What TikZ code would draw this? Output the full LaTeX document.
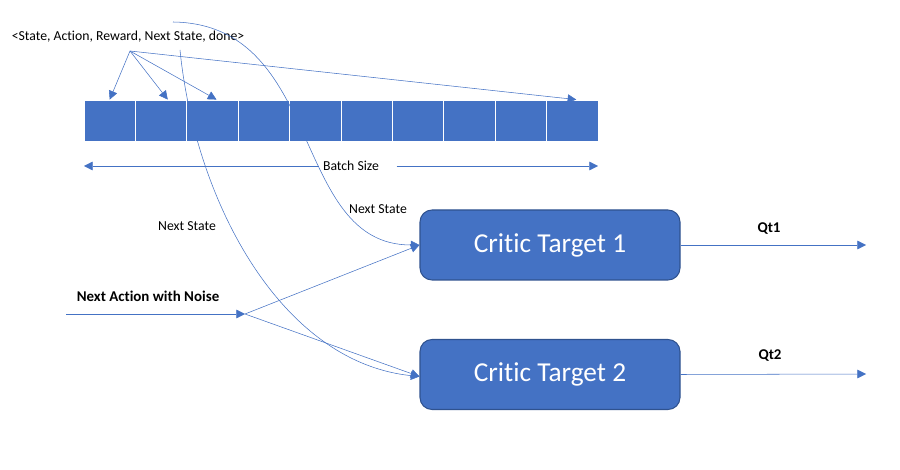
\documentclass[tikz,border=0pt]{standalone}
\usepackage{fontspec}
\setmainfont{Carlito}[Ligatures=CommonOff]
\usetikzlibrary{arrows.meta,positioning}

\definecolor{officeblue}{HTML}{4472C4}
\definecolor{officedark}{HTML}{2F528F}

\begin{document}
\begin{tikzpicture}[
  x=0.75pt, y=-0.75pt,
  >={Triangle[length=6.5pt,width=6.5pt]},
  semithick,
  flow/.style={->,draw=officeblue,thin},
  cell/.style={draw=white,fill=officeblue,minimum width=38.55pt,minimum height=30.75pt,inner sep=0pt},
  critic/.style={draw=officedark,thick,fill=officeblue,rounded corners=9pt,minimum width=195pt,minimum height=52.5pt,text=white,font=\fontsize{20.5}{24}\selectfont},
  lbl/.style={font=\fontsize{10.3}{12}\selectfont,inner sep=1pt},
  bold lbl/.style={lbl,font=\fontsize{11.2}{13}\selectfont\bfseries}
]
  \useasboundingbox (0,0) rectangle (900,470);

  % Replay buffer
  \node[lbl] (tuple) at (128,37) {<State, Action, Reward, Next State, done>};
  \coordinate (fan) at (130,51);
  \foreach \i in {1,...,10}
    \node[cell] (cell\i) at ({84+25.7+51.4*(\i-1)},120.5) {};

  % Batch size
  \node[lbl] (batch) at (351,166) {Batch Size};
  \coordinate (bleft) at (84,166);
  \coordinate (bright) at (598,166);

  % Critic targets
  \node[critic] (ct1) at (550,245) {Critic Target 1};
  \node[critic] (ct2) at (550,374.5) {Critic Target 2};

  % Inputs and outputs
  \coordinate (start) at (66,314);
  \coordinate (noise) at (245,314);
  \node[bold lbl] (nalabel) at (148,296) {Next Action with Noise};
  \coordinate (ns1) at (173,22);
  \coordinate (ns2) at (180,50);
  \node[lbl] (ns1label) at (378,209) {Next State};
  \node[lbl] (ns2label) at (187,226) {Next State};
  \coordinate (q1end) at (866,245);
  \coordinate (q2end) at (866,374);
  \node[bold lbl] (qt1) at (769,229) {Qt1};
  \node[bold lbl] (qt2) at (770,356) {Qt2};

  % --- Edges ---
  \draw[flow] (fan) -- (cell1.north);
  \draw[flow] (fan) -- ([xshift=5pt]cell2.north);
  \draw[flow] (fan) -- ([xshift=3pt]cell3.north);
  \draw[flow] (fan) -- ([xshift=3pt]cell10.north);

  \draw[flow] ([xshift=-2pt]batch.west) -- (bleft);
  \draw[flow] ([xshift=12pt]batch.east) -- (bright);

  % Next state into both critics
  \draw[flow] (ns1) .. controls (325,24) and (290,245) .. (ct1.west);
  \draw[flow] (ns2) .. controls (195,200) and (280,362) .. ([yshift=-1.5pt]ct2.west);

  % Noisy action
  \draw[flow] (start) -- (noise);
  \draw[flow] (noise) -- (ct1.west);
  \draw[flow] (noise) -- ([yshift=-1.5pt]ct2.west);

  % Outputs
  \draw[flow] (ct1.east) -- (q1end);
  \draw[flow] (ct2.east) -- (q2end);
\end{tikzpicture}
\end{document}
